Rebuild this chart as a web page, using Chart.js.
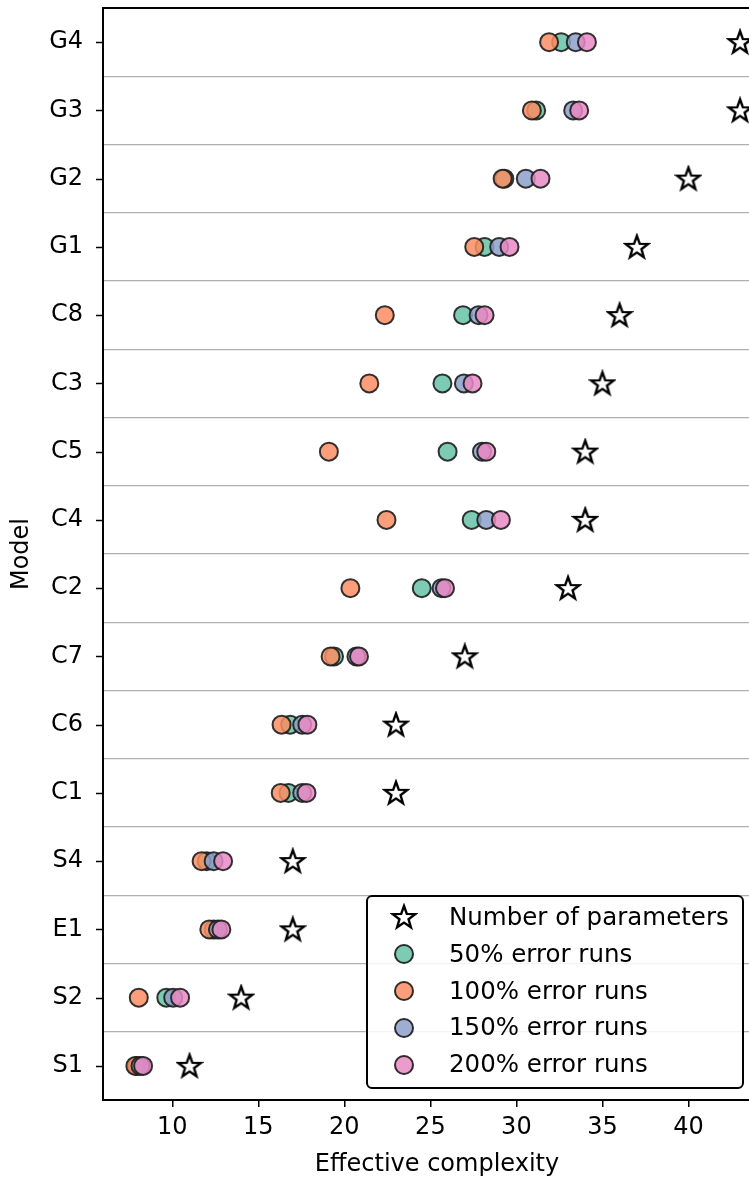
<!DOCTYPE html>
<html>
<head>
<meta charset="utf-8">
<script src="https://cdn.jsdelivr.net/npm/chart.js@4.4.1/dist/chart.umd.min.js"></script>
<style>
  html, body { margin: 0; padding: 0; background: #fff; overflow: hidden; }
  #wrap { position: relative; width: 772px; height: 1183px; }
  #legend {
    position: absolute; left: 366px; top: 895px; width: 374px; height: 188px;
    border: 2px solid #000; border-radius: 6px; background: rgba(255,255,255,0.85);
    font-family: "DejaVu Sans", sans-serif; font-size: 24.5px; color: #000;
    padding-top: 2px; box-sizing: content-box;
  }
  #legend .row { position: relative; height: 36.8px; line-height: 36.8px; }
  #legend .mk { position: absolute; left: 36px; top: 50%; transform: translate(-50%, -50%); }
  #legend .txt { position: absolute; left: 81px; top: 0; white-space: nowrap; }
</style>
</head>
<body>
<div id="wrap">
  <canvas id="chart" width="772" height="1183"></canvas>
  <div id="legend"></div>
</div>
<script>
  // values
  const models = ['G4', 'G3', 'G2', 'G1', 'C8', 'C3', 'C5', 'C4', 'C2', 'C7', 'C6', 'C1', 'S4', 'E1', 'S2', 'S1'];
  const numParams = [43, 43, 40, 37, 36, 35, 34, 34, 33, 27, 23, 23, 17, 17, 14, 11];
  const err50 = [32.6, 31.15, 29.3, 28.15, 26.9, 25.7, 26.0, 27.4, 24.5, 19.4, 16.85, 16.75, 12.0, 12.4, 9.65, 7.95];
  const err100 = [31.9, 30.9, 29.2, 27.55, 22.35, 21.45, 19.1, 22.45, 20.35, 19.2, 16.35, 16.3, 11.7, 12.15, 8.05, 7.85];
  const err150 = [33.45, 33.3, 30.55, 29.0, 27.8, 26.95, 28.0, 28.25, 25.65, 20.7, 17.55, 17.55, 12.4, 12.65, 10.05, 8.15];
  const err200 = [34.1, 33.65, 31.4, 29.6, 28.15, 27.45, 28.25, 29.1, 25.85, 20.85, 17.85, 17.8, 12.95, 12.85, 10.45, 8.3];
  const xTicks = [10, 15, 20, 25, 30, 35, 40];

  Chart.defaults.font.family = '"DejaVu Sans", sans-serif';
  Chart.defaults.font.size = 24;
  Chart.defaults.color = '#000';

  // white five-point star marker
  function makeStar() {
    const c = document.createElement('canvas');
    c.width = 28; c.height = 28;
    const ctx = c.getContext('2d');
    ctx.beginPath();
    for (let k = 0; k < 10; k++) {
      const a = -Math.PI / 2 + k * Math.PI / 5;
      const r = k % 2 === 0 ? 11.8 : 4.8;
      const px = 14 + r * Math.cos(a), py = 14.8 + r * Math.sin(a);
      if (k === 0) ctx.moveTo(px, py); else ctx.lineTo(px, py);
    }
    ctx.closePath();
    ctx.fillStyle = '#fff';
    ctx.fill();
    ctx.lineWidth = 2.4;
    ctx.strokeStyle = '#000';
    ctx.stroke();
    return c;
  }
  const star = makeStar();

  function dots(label, data, color, order) {
    return {
      label: label, data: data, order: order,
      showLine: false,
      pointRadius: 9, pointHoverRadius: 9,
      pointBorderWidth: 2,
      pointBackgroundColor: color,
      pointBorderColor: 'rgba(30,30,30,0.9)',
      borderColor: 'rgba(30,30,30,0.9)',
      backgroundColor: color
    };
  }

  // black tick marks at category centres + top spine
  const frame = {
    id: 'frame',
    afterDraw(chart) {
      const ctx = chart.ctx, a = chart.chartArea, y = chart.scales.y;
      ctx.save();
      ctx.strokeStyle = '#000';
      ctx.lineWidth = 1.5;
      y.ticks.forEach((t, i) => {
        const py = Math.round(y.getPixelForTick(i)) + 0.5;
        ctx.beginPath(); ctx.moveTo(a.left - 7, py); ctx.lineTo(a.left, py); ctx.stroke();
      });
      ctx.lineWidth = 2;
      ctx.beginPath(); ctx.moveTo(a.left, a.top); ctx.lineTo(a.right, a.top); ctx.lineTo(a.right, a.bottom); ctx.stroke();
      ctx.restore();
    }
  };

  const chart = new Chart(document.getElementById('chart'), {
    type: 'line',
    data: {
      labels: models,
      datasets: [
        { label: 'Number of parameters', data: numParams, order: 0, showLine: false,
          pointStyle: star, pointRadius: 12, pointHoverRadius: 12 },
        dots('50% error runs', err50, 'rgba(102,194,165,0.85)', 4),
        dots('100% error runs', err100, 'rgba(252,141,98,0.85)', 3),
        dots('150% error runs', err150, 'rgba(141,160,203,0.85)', 2),
        dots('200% error runs', err200, 'rgba(231,138,195,0.85)', 1)
      ]
    },
    options: {
      indexAxis: 'y',
      responsive: false,
      animation: false,
      layout: { autoPadding: false, padding: { top: 8, right: 1, left: 0, bottom: 0 } },
      plugins: { legend: { display: false }, tooltip: { enabled: false } },
      scales: {
        x: {
          type: 'linear', min: 5.97, max: 44.8,
          afterBuildTicks: s => { s.ticks = xTicks.map(v => ({ value: v })); },
          afterFit: s => { s.height = 83; s.paddingLeft = 0; s.paddingRight = 0; },
          border: { color: '#000', width: 2 },
          grid: { drawOnChartArea: false, drawTicks: true, tickLength: 7, color: '#000', lineWidth: 1.5 },
          ticks: { padding: 6, maxRotation: 0 },
          title: { display: true, text: 'Effective complexity', padding: { top: 0, bottom: 4 } }
        },
        y: {
          type: 'category',
          offset: true,
          afterFit: s => { s.width = 103; s.paddingTop = 0; s.paddingBottom = 0; },
          border: { color: '#000', width: 2 },
          grid: { offset: true, drawTicks: false, color: '#b0b0b0', lineWidth: 1.2 },
          ticks: { padding: 20 },
          title: { display: true, text: 'Model', padding: { top: 7, bottom: 0 } }
        }
      }
    },
    plugins: [frame]
  });

  // html legend built from the datasets, in dataset order
  const legend = document.getElementById('legend');
  chart.data.datasets.forEach(ds => {
    const row = document.createElement('div');
    row.className = 'row';
    let mk;
    if (ds.pointStyle === star) {
      mk = document.createElement('img');
      mk.src = star.toDataURL();
      mk.style.width = '28px'; mk.style.height = '28px';
    } else {
      mk = document.createElement('span');
      mk.style.display = 'block';
      mk.style.width = '16px'; mk.style.height = '16px';
      mk.style.borderRadius = '50%';
      mk.style.background = ds.pointBackgroundColor;
      mk.style.border = '2px solid ' + ds.pointBorderColor;
    }
    mk.className = 'mk';
    const txt = document.createElement('span');
    txt.className = 'txt';
    txt.textContent = ds.label;
    row.appendChild(mk); row.appendChild(txt);
    legend.appendChild(row);
  });
</script>
</body>
</html>
